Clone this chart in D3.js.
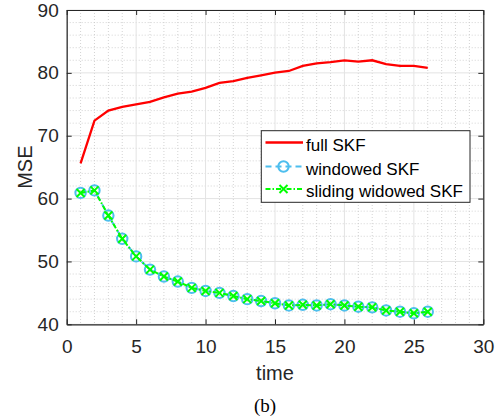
<!DOCTYPE html>
<html>
<head>
<meta charset="utf-8">
<script src="https://cdn.jsdelivr.net/npm/d3@7"></script>
<style>
  body { margin: 0; background: #fff; }
</style>
</head>
<body>
<div id="chart"></div>
<script>
// data
var time = d3.range(1, 27);
var fullSKF = [65.6, 72.4, 74.0, 74.6, 75.0, 75.4, 76.1, 76.7, 77.0, 77.6, 78.4, 78.7, 79.2,
               79.6, 80.05, 80.3, 81.1, 81.5, 81.7, 82.0, 81.8, 82.0, 81.4, 81.1, 81.1, 80.8];
var windowedSKF = [60.9, 61.3, 57.3, 53.6, 50.8, 48.7, 47.6, 46.8, 45.8, 45.3, 45.0, 44.5, 44.0,
                   43.7, 43.35, 43.0, 43.1, 43.0, 43.2, 43.0, 42.8, 42.7, 42.2, 42.0, 41.75, 42.0];
var slidingSKF = [60.9, 61.3, 57.3, 53.6, 50.8, 48.7, 47.6, 46.8, 45.8, 45.3, 45.0, 44.5, 44.0,
                  43.7, 43.35, 43.0, 43.1, 43.0, 43.2, 43.0, 42.8, 42.7, 42.2, 42.0, 41.75, 42.0];
var xTicks = [0, 5, 10, 15, 20, 25, 30];
var yTicks = [40, 50, 60, 70, 80, 90];
var legendNames = ["full SKF", "windowed SKF", "sliding widowed SKF"];

var chart_width = 496, chart_height = 419;
var plotLeft = 66.7, plotRight = 483.3, plotTop = 10, plotBottom = 324.3;

var svg = d3.select('#chart')
    .append('svg')
    .attr('width', chart_width)
    .attr('height', chart_height)
    .attr('font-family', '"Liberation Sans", Arial, sans-serif');

var x = d3.scaleLinear().domain([0, 30]).range([plotLeft, plotRight]);
var y = d3.scaleLinear().domain([40, 90]).range([plotBottom, plotTop]);

// minor grid (dotted)
svg.append('g').selectAll('line')
    .data(d3.range(0, 31, 1).filter(function (d) { return d % 5 != 0; }))
    .enter().append('line')
    .attr('x1', function (d) { return x(d); })
    .attr('x2', function (d) { return x(d); })
    .attr('y1', plotTop).attr('y2', plotBottom)
    .attr('stroke', '#c8c8c8')
    .attr('stroke-width', 0.8)
    .attr('stroke-dasharray', '1,2');

svg.append('g').selectAll('line')
    .data(d3.range(40, 91, 2).filter(function (d) { return d % 10 != 0; }))
    .enter().append('line')
    .attr('y1', function (d) { return y(d); })
    .attr('y2', function (d) { return y(d); })
    .attr('x1', plotLeft).attr('x2', plotRight)
    .attr('stroke', '#c8c8c8')
    .attr('stroke-width', 0.8)
    .attr('stroke-dasharray', '1,2');

// major grid
svg.append('g').selectAll('line')
    .data(xTicks)
    .enter().append('line')
    .attr('x1', function (d) { return x(d); })
    .attr('x2', function (d) { return x(d); })
    .attr('y1', plotTop).attr('y2', plotBottom)
    .attr('stroke', '#e3e3e3')
    .attr('stroke-width', 1);

svg.append('g').selectAll('line')
    .data(yTicks)
    .enter().append('line')
    .attr('y1', function (d) { return y(d); })
    .attr('y2', function (d) { return y(d); })
    .attr('x1', plotLeft).attr('x2', plotRight)
    .attr('stroke', '#e3e3e3')
    .attr('stroke-width', 1);

// axes
svg.append('g')
    .attr('transform', 'translate(0,' + plotBottom + ')')
    .call(d3.axisBottom(x).tickValues(xTicks).tickSizeInner(-5).tickSizeOuter(0).tickPadding(15));
svg.append('g')
    .attr('transform', 'translate(' + plotLeft + ',0)')
    .call(d3.axisLeft(y).tickValues(yTicks).tickSizeInner(-5).tickSizeOuter(0).tickPadding(8));
svg.append('g')
    .attr('transform', 'translate(0,' + plotTop + ')')
    .call(d3.axisTop(x).tickValues(xTicks).tickSizeInner(-5).tickSizeOuter(0).tickFormat(''));
svg.append('g')
    .attr('transform', 'translate(' + plotRight + ',0)')
    .call(d3.axisRight(y).tickValues(yTicks).tickSizeInner(-5).tickSizeOuter(0).tickFormat(''));

svg.selectAll('.domain').attr('stroke', '#262626').attr('stroke-width', 1.2);
svg.selectAll('.tick line').attr('stroke', '#262626');
svg.selectAll('.tick text')
    .attr('fill', '#262626')
    .attr('font-size', 19)
    .attr('font-family', '"Liberation Sans", Arial, sans-serif');

// axis labels
svg.append('text')
    .text('time')
    .attr('x', (plotLeft + plotRight) / 2)
    .attr('y', 380)
    .attr('text-anchor', 'middle')
    .attr('fill', '#262626')
    .attr('font-size', 20);

svg.append('text')
    .text('MSE')
    .attr('transform', 'translate(31.5,' + (plotTop + plotBottom) / 2 + ') rotate(-90)')
    .attr('text-anchor', 'middle')
    .attr('fill', '#262626')
    .attr('font-size', 20);

svg.append('text')
    .text('(b)')
    .attr('x', 265)
    .attr('y', 412)
    .attr('text-anchor', 'middle')
    .attr('fill', '#000')
    .attr('font-size', 19)
    .attr('font-family', '"Liberation Serif", "Times New Roman", serif');

// lines
var line = d3.line()
    .x(function (d, i) { return x(time[i]); })
    .y(function (d) { return y(d); });

svg.append('path')
    .attr('d', line(fullSKF))
    .attr('fill', 'none')
    .attr('stroke', '#ff0000')
    .attr('stroke-width', 2.3);

svg.append('path')
    .attr('d', line(windowedSKF))
    .attr('fill', 'none')
    .attr('stroke', '#4dbeee')
    .attr('stroke-width', 2)
    .attr('stroke-dasharray', '6,4');

svg.append('g').selectAll('circle')
    .data(windowedSKF)
    .enter().append('circle')
    .attr('cx', function (d, i) { return x(time[i]); })
    .attr('cy', function (d) { return y(d); })
    .attr('r', 5.2)
    .attr('fill', 'none')
    .attr('stroke', '#4dbeee')
    .attr('stroke-width', 2);

svg.append('path')
    .attr('d', line(slidingSKF))
    .attr('fill', 'none')
    .attr('stroke', '#00ff00')
    .attr('stroke-width', 2)
    .attr('stroke-dasharray', '5,2,1.5,2');

svg.append('g').selectAll('path')
    .data(slidingSKF)
    .enter().append('path')
    .attr('d', function (d, i) {
        var cx = x(time[i]), cy = y(d), s = 4;
        return 'M' + (cx - s) + ',' + (cy - s) + 'L' + (cx + s) + ',' + (cy + s) +
               'M' + (cx - s) + ',' + (cy + s) + 'L' + (cx + s) + ',' + (cy - s);
    })
    .attr('stroke', '#00ff00')
    .attr('stroke-width', 2)
    .attr('fill', 'none');

// legend
var legend = svg.append('g');
legend.append('rect')
    .attr('x', 261.3).attr('y', 130.7)
    .attr('width', 208.7).attr('height', 71.6)
    .attr('fill', '#fff')
    .attr('stroke', '#262626')
    .attr('stroke-width', 1);

var legY = [142.5, 166.5, 189];

legend.append('line')
    .attr('x1', 265.5).attr('x2', 303).attr('y1', legY[0]).attr('y2', legY[0])
    .attr('stroke', '#ff0000').attr('stroke-width', 2.3);
legend.append('line')
    .attr('x1', 265.5).attr('x2', 303).attr('y1', legY[1]).attr('y2', legY[1])
    .attr('stroke', '#4dbeee').attr('stroke-width', 2).attr('stroke-dasharray', '6,4');
legend.append('circle')
    .attr('cx', 283.5).attr('cy', legY[1]).attr('r', 5.2)
    .attr('fill', 'none').attr('stroke', '#4dbeee').attr('stroke-width', 2);
legend.append('line')
    .attr('x1', 265.5).attr('x2', 303).attr('y1', legY[2]).attr('y2', legY[2])
    .attr('stroke', '#00ff00').attr('stroke-width', 2).attr('stroke-dasharray', '5,2,1.5,2');
legend.append('path')
    .attr('d', 'M279.5,' + (legY[2] - 4) + 'L287.5,' + (legY[2] + 4) +
               'M279.5,' + (legY[2] + 4) + 'L287.5,' + (legY[2] - 4))
    .attr('stroke', '#00ff00').attr('stroke-width', 2);

legend.selectAll('text')
    .data(legendNames)
    .enter().append('text')
    .text(function (d) { return d; })
    .attr('x', 306)
    .attr('y', function (d, i) { return legY[i] + 8; })
    .attr('fill', '#000')
    .attr('font-size', 17);
</script>
</body>
</html>
